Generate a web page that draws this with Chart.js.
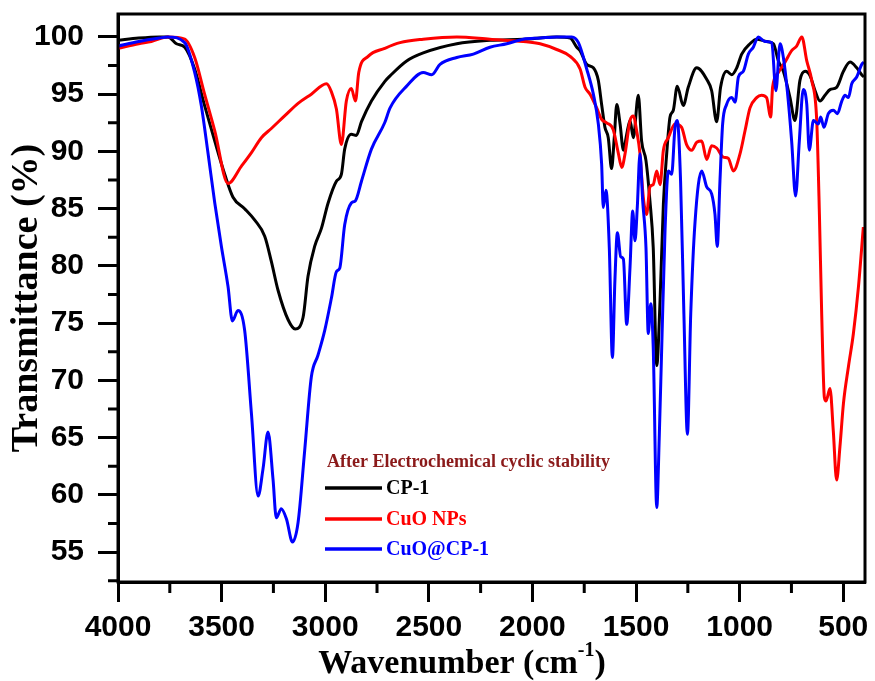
<!DOCTYPE html>
<html>
<head>
<meta charset="utf-8">
<script src="https://cdn.jsdelivr.net/npm/chart.js@4.4.1/dist/chart.umd.min.js"></script>
<style>
  html, body { margin: 0; padding: 0; background: #fff; }
</style>
</head>
<body>
<canvas id="ftir" width="875" height="681"></canvas>
<script>
// FTIR spectra after cycling (wavenumber in cm-1, transmittance in %)
const cp1Wn = [4000, 3900, 3800, 3759, 3718, 3678, 3630, 3582, 3533, 3485, 3445, 3389, 3340, 3292, 3260, 3228, 3179, 3145, 3107, 3083, 3051, 3018, 2986, 2946, 2922, 2906, 2874, 2850, 2825, 2777, 2713, 2687, 2607, 2527, 2365, 2205, 2044, 1883, 1818, 1786, 1770, 1738, 1706, 1682, 1666, 1650, 1634, 1618, 1605, 1593, 1577, 1561, 1545, 1529, 1513, 1489, 1473, 1452, 1433, 1417, 1400, 1384, 1368, 1352, 1336, 1320, 1301, 1272, 1248, 1207, 1159, 1135, 1111, 1092, 1063, 1038, 1014, 990, 950, 918, 870, 837, 813, 789, 757, 733, 709, 684, 660, 636, 612, 588, 564, 532, 499, 467, 435, 411, 400];
const cp1T = [99.7, 99.9, 100.0, 100.0, 99.4, 99.1, 97.2, 94.0, 90.9, 88.0, 86.0, 85.0, 84.0, 82.6, 80.4, 77.9, 75.3, 74.5, 75.5, 79.1, 81.7, 83.3, 85.5, 87.4, 88.0, 90.2, 91.5, 91.4, 92.6, 94.4, 96.1, 96.6, 97.9, 98.6, 99.4, 99.7, 99.8, 100.0, 99.9, 99.1, 98.8, 97.6, 97.3, 96.2, 94.1, 92.1, 91.2, 88.5, 91.2, 94.1, 92.4, 90.1, 91.5, 92.7, 91.2, 94.9, 90.9, 89.2, 85.7, 81.6, 71.3, 77.0, 85.4, 89.8, 93.0, 93.6, 95.7, 94.0, 95.6, 97.3, 96.3, 95.3, 92.6, 95.6, 97.0, 96.7, 97.3, 98.5, 99.4, 99.8, 99.6, 99.4, 97.9, 97.0, 94.7, 92.7, 96.2, 97.0, 96.6, 95.3, 94.4, 94.9, 95.4, 95.6, 97.0, 97.8, 97.3, 96.7, 96.5];

const cuoWn = [4000, 3900, 3839, 3759, 3678, 3630, 3582, 3533, 3469, 3405, 3356, 3308, 3260, 3196, 3131, 3067, 2994, 2970, 2946, 2922, 2898, 2874, 2854, 2838, 2793, 2713, 2639, 2527, 2365, 2205, 2044, 1963, 1883, 1818, 1770, 1746, 1722, 1690, 1666, 1642, 1610, 1585, 1569, 1553, 1529, 1513, 1497, 1481, 1465, 1449, 1433, 1417, 1400, 1384, 1368, 1344, 1312, 1280, 1256, 1231, 1207, 1183, 1159, 1135, 1111, 1079, 1055, 1030, 998, 974, 950, 918, 894, 870, 850, 841, 813, 781, 749, 725, 700, 676, 652, 628, 615, 604, 591, 583, 564, 548, 532, 516, 499, 475, 451, 427, 403];
const cuoT = [99.0, 99.4, 99.6, 100.0, 99.8, 98.2, 95.0, 91.8, 87.2, 88.7, 89.9, 91.2, 92.0, 93.1, 94.2, 95.0, 95.9, 95.2, 93.7, 90.6, 94.4, 95.5, 94.4, 96.9, 98.3, 99.0, 99.5, 99.8, 100.0, 99.8, 99.6, 99.4, 98.9, 98.3, 97.2, 95.6, 95.0, 93.8, 92.8, 92.5, 91.9, 89.8, 88.6, 89.8, 92.7, 93.1, 91.8, 89.8, 86.0, 84.5, 86.9, 87.1, 88.3, 87.1, 90.1, 91.2, 92.4, 92.1, 90.6, 90.1, 90.8, 90.9, 89.3, 90.5, 90.3, 89.5, 89.4, 88.3, 89.8, 91.8, 93.8, 94.7, 94.9, 94.7, 93.0, 95.6, 96.9, 97.8, 98.8, 99.2, 100.0, 97.9, 96.2, 92.7, 84.5, 75.8, 68.5, 68.2, 69.3, 65.6, 61.3, 64.2, 68.0, 71.2, 74.1, 78.1, 83.4];

const compWn = [4000, 3900, 3800, 3759, 3678, 3630, 3598, 3566, 3533, 3501, 3469, 3448, 3421, 3389, 3356, 3324, 3300, 3276, 3252, 3236, 3212, 3187, 3158, 3131, 3099, 3067, 3035, 3002, 2970, 2946, 2930, 2906, 2874, 2854, 2825, 2777, 2713, 2687, 2607, 2527, 2486, 2446, 2365, 2285, 2205, 2124, 2044, 1963, 1883, 1810, 1778, 1738, 1706, 1682, 1666, 1658, 1645, 1629, 1614, 1602, 1590, 1574, 1561, 1545, 1529, 1516, 1505, 1494, 1481, 1468, 1452, 1441, 1429, 1417, 1400, 1388, 1376, 1360, 1344, 1328, 1312, 1301, 1285, 1269, 1252, 1236, 1215, 1183, 1159, 1135, 1119, 1108, 1095, 1082, 1063, 1038, 1022, 1006, 982, 958, 934, 910, 878, 845, 825, 805, 789, 770, 749, 730, 712, 693, 676, 664, 644, 620, 609, 593, 572, 548, 528, 507, 491, 475, 459, 435, 411, 400];
const compT = [99.2, 99.6, 99.9, 100.0, 99.5, 96.9, 94.0, 89.9, 85.5, 81.7, 78.2, 75.2, 76.1, 74.4, 67.1, 59.9, 62.3, 65.5, 61.4, 58.0, 58.8, 57.9, 55.9, 57.6, 63.9, 70.3, 72.2, 74.4, 77.2, 79.5, 79.8, 83.6, 85.5, 85.7, 87.4, 90.2, 92.5, 93.8, 95.7, 96.9, 96.7, 97.6, 98.2, 98.5, 99.1, 99.4, 99.8, 99.9, 100.0, 100.0, 99.5, 97.2, 95.0, 92.4, 88.9, 85.1, 86.6, 81.6, 72.0, 78.7, 82.9, 80.8, 80.6, 74.9, 79.9, 84.8, 82.2, 85.1, 89.8, 85.7, 81.6, 74.1, 76.7, 72.9, 58.9, 65.0, 72.9, 83.1, 88.3, 88.0, 92.1, 92.7, 87.4, 75.8, 65.3, 75.8, 83.9, 88.3, 86.9, 86.3, 84.5, 81.7, 87.4, 92.4, 94.1, 94.7, 94.3, 96.5, 97.0, 98.5, 99.1, 100.0, 99.6, 99.5, 95.3, 99.4, 98.2, 95.3, 90.9, 86.1, 90.9, 95.4, 94.1, 90.1, 92.7, 92.4, 93.0, 92.1, 93.3, 93.6, 93.3, 94.4, 94.9, 94.7, 95.9, 96.5, 97.6, 97.8];

const seriesNames = ['CP-1', 'CuO NPs', 'CuO@CP-1'];
const seriesColors = ['#000000', '#ff0000', '#0000ff'];
const legendTitle = 'After Electrochemical cyclic stability';

const xMajorTicks = [4000, 3500, 3000, 2500, 2000, 1500, 1000, 500];
const xMinorTicks = [3750, 3250, 2750, 2250, 1750, 1250, 750];
const yMajorTicks = [55, 60, 65, 70, 75, 80, 85, 90, 95, 100];
const yMinorTicks = [52.5, 57.5, 62.5, 67.5, 72.5, 77.5, 82.5, 87.5, 92.5, 97.5];

function toPoints(xs, ys) {
    return xs.map((x, i) => ({ x: x, y: ys[i] }));
}

// frame, minor ticks, x title with superscript and the in-plot legend
const extrasPlugin = {
    id: 'extras',
    afterDraw(chart) {
        const ctx = chart.ctx;
        const area = chart.chartArea;
        const xs = chart.scales.x;
        const ys = chart.scales.y;

        ctx.save();
        ctx.strokeStyle = '#000';
        ctx.lineWidth = 3;
        ctx.strokeRect(area.left, area.top, area.right - area.left, area.bottom - area.top);

        // minor ticks
        ctx.beginPath();
        xMinorTicks.forEach(v => {
            const px = xs.getPixelForValue(v);
            ctx.moveTo(px, area.bottom);
            ctx.lineTo(px, area.bottom + 11);
        });
        yMinorTicks.forEach(v => {
            const py = ys.getPixelForValue(v);
            ctx.moveTo(area.left, py);
            ctx.lineTo(area.left - 10, py);
        });
        ctx.stroke();

        // x axis title
        const mainFont = 'bold 34px "Liberation Serif", "Times New Roman", serif';
        const supFont = 'bold 20px "Liberation Serif", "Times New Roman", serif';
        const part1 = 'Wavenumber (cm';
        const sup = '-1';
        const part2 = ')';
        ctx.font = mainFont;
        const w1 = ctx.measureText(part1).width;
        const w3 = ctx.measureText(part2).width;
        ctx.font = supFont;
        const w2 = ctx.measureText(sup).width;
        const total = w1 + w2 + w3;
        let tx = 462 - total / 2;
        const base = 673;
        ctx.fillStyle = '#000';
        ctx.textBaseline = 'alphabetic';
        ctx.textAlign = 'left';
        ctx.font = mainFont;
        ctx.fillText(part1, tx, base);
        tx += w1;
        ctx.font = supFont;
        ctx.fillText(sup, tx, base - 17);
        tx += w2;
        ctx.font = mainFont;
        ctx.fillText(part2, tx, base);

        // legend
        ctx.font = 'bold 18px "Liberation Serif", "Times New Roman", serif';
        ctx.fillStyle = '#8b1a1a';
        ctx.fillText(legendTitle, 327, 467);
        const rows = [488, 519, 549];
        chart.data.datasets.forEach((ds, i) => {
            ctx.strokeStyle = ds.borderColor;
            ctx.lineWidth = 3.5;
            ctx.beginPath();
            ctx.moveTo(325, rows[i]);
            ctx.lineTo(382, rows[i]);
            ctx.stroke();
            ctx.fillStyle = ds.borderColor;
            ctx.font = 'bold 20px "Liberation Serif", "Times New Roman", serif';
            ctx.textBaseline = 'middle';
            ctx.fillText(ds.label, 386, rows[i] + 1);
        });
        ctx.restore();
    }
};

const tickFont = { family: '"Liberation Sans", Arial, sans-serif', size: 30, weight: 'bold' };

new Chart(document.getElementById('ftir'), {
    type: 'line',
    data: {
        datasets: [
            { label: seriesNames[0], data: toPoints(cp1Wn, cp1T), borderColor: seriesColors[0], order: 2 },
            { label: seriesNames[1], data: toPoints(cuoWn, cuoT), borderColor: seriesColors[1], order: 1 },
            { label: seriesNames[2], data: toPoints(compWn, compT), borderColor: seriesColors[2], order: 0 }
        ]
    },
    options: {
        responsive: false,
        animation: false,
        layout: { padding: { top: 14, right: 10, left: 0, bottom: 0 } },
        elements: {
            line: { borderWidth: 3, cubicInterpolationMode: 'monotone', fill: false },
            point: { radius: 0 }
        },
        plugins: {
            legend: { display: false },
            tooltip: { enabled: false }
        },
        scales: {
            x: {
                type: 'linear',
                reverse: true,
                min: 395,
                max: 4000,
                afterBuildTicks: s => { s.ticks = xMajorTicks.map(v => ({ value: v })); },
                afterFit: s => { s.height = 99; s.paddingLeft = 0; s.paddingRight = 0; },
                ticks: { font: tickFont, color: '#000', padding: 8, maxRotation: 0, autoSkip: false, callback: v => String(v) },
                grid: { drawOnChartArea: false, tickLength: 20, tickWidth: 3, tickColor: '#000' },
                border: { display: true, width: 3, color: '#000' }
            },
            y: {
                min: 52.4,
                max: 102,
                afterBuildTicks: s => { s.ticks = yMajorTicks.map(v => ({ value: v })); },
                afterFit: s => { s.width = 118; s.paddingTop = 0; s.paddingBottom = 0; },
                ticks: { font: tickFont, color: '#000', padding: 14, callback: v => String(v) },
                grid: { drawOnChartArea: false, tickLength: 20, tickWidth: 3, tickColor: '#000' },
                border: { display: true, width: 3, color: '#000' },
                title: {
                    display: true,
                    text: 'Transmittance (%)',
                    color: '#000',
                    font: { family: '"Liberation Serif", "Times New Roman", serif', size: 38, weight: 'bold' },
                    padding: { top: 4, bottom: 0 }
                }
            }
        }
    },
    plugins: [extrasPlugin]
});
</script>
</body>
</html>
